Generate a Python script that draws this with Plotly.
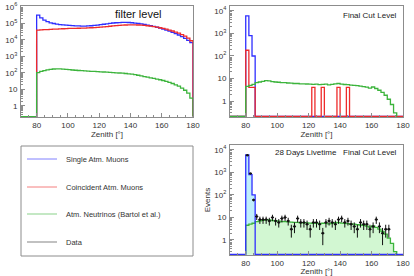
import plotly.graph_objects as go
import math

# ---------------- data ----------------
bin_edges = list(range(80, 182, 2))          # 2 degree bins, 80..180
x_ticks = [80, 100, 120, 140, 160, 180]

# filter level
filt_single = [3.2e5, 2.2e5, 1.6e5, 1.3e5, 1.1e5, 1.0e5, 9.2e4, 8.6e4, 8.2e4, 7.9e4,
               7.6e4, 7.4e4, 7.2e4, 7.1e4, 7.0e4, 7.0e4, 7.1e4, 7.3e4, 7.6e4, 8.0e4,
               8.5e4, 9.0e4, 9.6e4, 1.02e5, 1.07e5, 1.11e5, 1.14e5, 1.16e5, 1.17e5, 1.15e5,
               1.11e5, 1.06e5, 1.0e5, 9.4e4, 8.7e4, 8.0e4, 7.3e4, 6.6e4, 5.9e4, 5.2e4,
               4.6e4, 4.0e4, 3.4e4, 2.9e4, 2.4e4, 2.0e4, 1.6e4, 1.25e4, 9.5e3, 7.0e3]
filt_coinc = [4.0e4, 4.1e4, 4.2e4, 4.3e4, 4.4e4, 4.5e4, 4.6e4, 4.7e4, 4.8e4, 4.9e4,
              5.0e4, 5.05e4, 5.1e4, 5.15e4, 5.2e4, 5.3e4, 5.4e4, 5.5e4, 5.6e4, 5.8e4,
              6.0e4, 6.2e4, 6.5e4, 6.8e4, 7.1e4, 7.4e4, 7.7e4, 7.9e4, 8.1e4, 8.2e4,
              8.3e4, 8.2e4, 8.1e4, 7.9e4, 7.6e4, 7.3e4, 6.9e4, 6.5e4, 6.0e4, 5.5e4,
              5.0e4, 4.5e4, 4.0e4, 3.5e4, 3.0e4, 2.6e4, 2.1e4, 1.7e4, 1.3e4, 9.0e3]
filt_nu = [105, 125, 140, 155, 165, 175, 180, 178, 172, 165,
           158, 152, 147, 142, 138, 134, 130, 127, 124, 121,
           118, 115, 112, 109, 106, 103, 100, 97, 93, 89,
           85, 79, 73, 67, 61, 56, 51, 47, 43, 39,
           35, 31, 27, 23, 19, 16, 12, 9, 6, 3]

# final cut level
final_single = [6000, 800, 100] + [0] * 47
final_coinc = [180, 4, 4] + [0] * 47
for b in (122, 128, 138, 144):
    final_coinc[(b - 80) // 2] = 4
final_nu = [4.5, 5, 5.5, 6.5, 7, 7.5, 8, 7.8, 7.3, 7.0,
            6.8, 6.6, 6.5, 6.3, 6.2, 6.0, 6.0, 5.8, 5.8, 5.7,
            5.6, 5.5, 5.6, 5.3, 5.5, 5.6, 5.2, 5.5, 5.8, 6.0,
            5.6, 5.4, 5.3, 5.1, 5.0, 4.8, 4.6, 4.4, 4.1, 3.7,
            4.2, 3.6, 3.0, 2.4, 1.8, 1.2, 0.7, 0.3, 0, 0]

# data, 28 days livetime (bin centres 81..171)
data_x = list(range(81, 173, 2))
data_n = [5800, 900, 60, 11, 8, 8, 8, 7, 10, 7, 6, 9, 10, 7, 3, 4, 9, 6, 6, 5,
          3, 6, 6, 5, 2, 6, 7, 6, 5, 8, 9, 6, 7, 5, 4, 3, 6, 5, 5, 3,
          4, 8, 4, 2, 3, 3]

legend_labels = ["Single Atm. Muons", "Coincident Atm. Muons",
                 "Atm. Neutrinos (Bartol et al.)", "Data"]

# ---------------- style ----------------
W, H = 414, 276
XMIN, XMAX = 70, 180
BLUE, RED, GREEN, BLACK = "#2f2fff", "#ee2b2b", "#3cb43c", "#111111"
FONT = "Liberation Sans, Arial, sans-serif"
TXT = "#333333"


def px_dom_x(a, b):
    return [a / W, b / W]


def px_dom_y(top, bottom):
    return [1 - bottom / H, 1 - top / H]


def step_path(vals, lo, left_ext=True, trim=False):
    last = len(vals)
    if trim:
        while last > 0 and vals[last - 1] <= 0:
            last -= 1
    xs = [XMIN if left_ext else bin_edges[0]]
    ys = [lo]
    for i in range(last):
        xs.append(bin_edges[i])
        ys.append(vals[i] if vals[i] > 0 else lo)
    xe = bin_edges[last]
    xs += [xe, xe]
    ys += [ys[-1], lo]
    return xs, ys


def log_ticks(top_exp):
    vals, txt, minor = [], [], []
    for e in range(0, top_exp + 1):
        vals.append(10 ** e)
        txt.append("1" if e == 0 else ("10" if e == 1 else f"10<sup>{e}</sup>"))
    for e in range(-1, top_exp + 1):
        for m in range(2, 10):
            minor.append(m * 10 ** e)
    return vals, txt, minor


fig = go.Figure()

ranges = {1: (-0.667, 6.06), 2: (-0.71, 4.22), 3: (-0.67, 4.22)}
floor = {k: 10 ** (v[0] + 0.025) for k, v in ranges.items()}


def add_line(vals, color, ax, left_ext=True, trim=False, fill=None):
    xs, ys = step_path(vals, floor[ax], left_ext, trim)
    sfx = "" if ax == 1 else str(ax)
    fig.add_trace(go.Scatter(
        x=xs, y=ys, mode="lines", line=dict(color=color, width=1.3, shape="hv"),
        fill="toself" if fill else None, fillcolor=fill,
        xaxis="x" + sfx, yaxis="y" + sfx, showlegend=False, hoverinfo="skip"))


# panel 1: filter level
add_line(filt_single, BLUE, 1)
add_line(filt_coinc, RED, 1)
add_line(filt_nu, GREEN, 1)

# panel 2: final cut level
add_line(final_single, BLUE, 2)
add_line(final_coinc, RED, 2)
add_line(final_nu, GREEN, 2, trim=True)

# panel 3: final cut level with data
xs, ys = step_path(final_single, floor[3])
fig.add_trace(go.Scatter(x=xs, y=ys, mode="lines", line=dict(width=0, shape="hv"),
                         fill="toself", fillcolor="#bfeefb", xaxis="x3", yaxis="y3",
                         showlegend=False, hoverinfo="skip"))
add_line(final_nu, GREEN, 3, left_ext=False, trim=True, fill="#d2f7d2")
add_line(final_single, BLUE, 3)
err_up = [math.sqrt(n) for n in data_n]
err_dn = [min(math.sqrt(n), n - floor[3]) for n in data_n]
fig.add_trace(go.Scatter(
    x=data_x, y=data_n, mode="markers",
    marker=dict(color=BLACK, size=2.5),
    error_y=dict(type="data", array=err_up, arrayminus=err_dn, color=BLACK,
                 thickness=1, width=0),
    error_x=dict(type="constant", value=1, color=BLACK, thickness=1, width=0),
    xaxis="x3", yaxis="y3", showlegend=False, hoverinfo="skip"))

axis_common = dict(showline=True, mirror=True, linecolor="#8c8c8c", linewidth=1,
                   ticks="inside", tickcolor="#8c8c8c", ticklen=4, showgrid=False,
                   zeroline=False, automargin=False,
                   tickfont=dict(size=8, color=TXT, family=FONT))

xdoms = {1: px_dom_x(21, 193), 2: px_dom_x(230, 403), 3: px_dom_x(230, 403)}
ydoms = {1: px_dom_y(6, 117), 2: px_dom_y(6, 117), 3: px_dom_y(145, 255)}
top_exp = {1: 6, 2: 4, 3: 4}

layout = dict(width=W, height=H, margin=dict(l=0, r=0, t=0, b=0),
              paper_bgcolor="white", plot_bgcolor="white", showlegend=False,
              font=dict(family=FONT, color=TXT))
for k in (1, 2, 3):
    sfx = "" if k == 1 else str(k)
    tv, tt, mv = log_ticks(top_exp[k])
    layout["xaxis" + sfx] = dict(axis_common, domain=xdoms[k], range=[XMIN, XMAX],
                                 anchor="y" + sfx, tickvals=x_ticks,
                                 minor=dict(ticks="inside", dtick=5, ticklen=2,
                                            tickcolor="#8c8c8c"),
                                 title=dict(text="Zenith [°]", standoff=0,
                                            font=dict(size=8, color=TXT, family=FONT)))
    ydict = dict(axis_common, domain=ydoms[k], type="log", range=list(ranges[k]),
                 anchor="x" + sfx, tickvals=tv, ticktext=tt, ticklabelstandoff=1,
                 minor=dict(ticks="inside", tickmode="array", tickvals=mv, ticklen=2,
                            tickcolor="#8c8c8c"))
    if k == 3:
        ydict["title"] = dict(text="Events", standoff=2,
                              font=dict(size=8, color=TXT, family=FONT))
    layout["yaxis" + sfx] = ydict

fig.update_layout(**layout)

# panel labels
fig.add_annotation(x=138 / W, y=1 - 14 / H, xref="paper", yref="paper", text="filter level",
                   showarrow=False, xanchor="center", yanchor="middle",
                   font=dict(size=11, color="#111", family=FONT))
fig.add_annotation(x=399 / W, y=1 - 15 / H, xref="paper", yref="paper", text="Final Cut Level",
                   showarrow=False, xanchor="right", yanchor="middle",
                   font=dict(size=8, color="#222", family=FONT))
fig.add_annotation(x=399 / W, y=1 - 152 / H, xref="paper", yref="paper",
                   text="28 Days Livetime   Final Cut Level",
                   showarrow=False, xanchor="right", yanchor="middle",
                   font=dict(size=8, color="#222", family=FONT))

# legend box
fig.add_shape(type="rect", xref="paper", yref="paper", x0=21 / W, x1=193 / W,
              y0=1 - 256 / H, y1=1 - 146 / H, line=dict(color="#8c8c8c", width=1))
leg_colors = [BLUE, RED, GREEN, "#333333"]
leg_y = [159, 187, 214, 242]
for lab, col, yy in zip(legend_labels, leg_colors, leg_y):
    fig.add_shape(type="line", xref="paper", yref="paper", x0=27 / W, x1=57 / W,
                  y0=1 - yy / H, y1=1 - yy / H, line=dict(color=col, width=1), opacity=0.6)
    fig.add_annotation(x=64 / W, y=1 - yy / H, xref="paper", yref="paper", text=lab,
                       showarrow=False, xanchor="left", yanchor="middle",
                       font=dict(size=7.5, color=TXT, family=FONT))

fig.write_html("out.html", config={"displayModeBar": False},
               post_script="document.body.style.margin='0';document.body.style.padding='0';")
